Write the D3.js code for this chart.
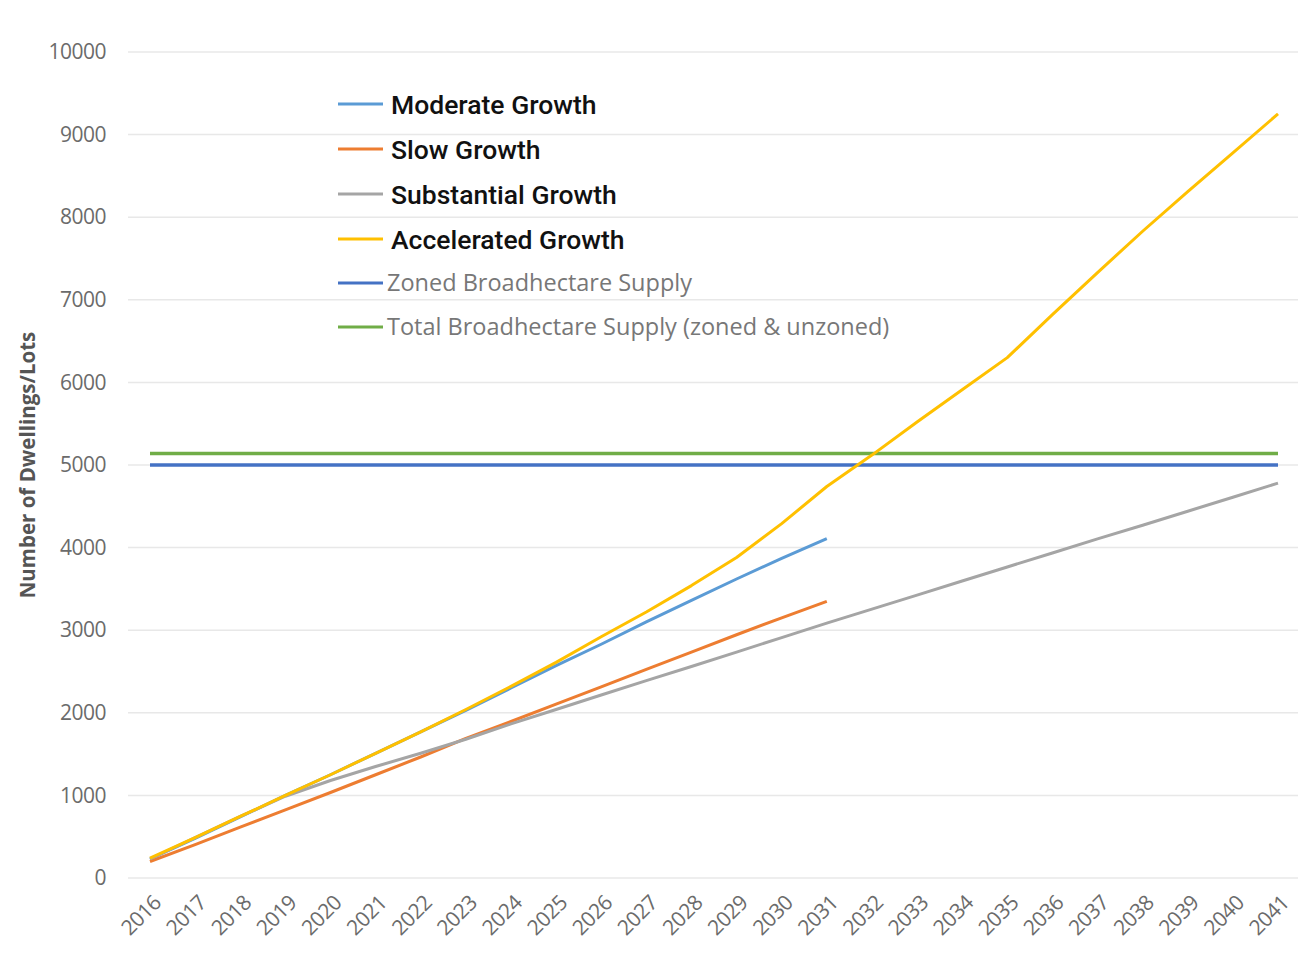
<!DOCTYPE html>
<html>
<head>
<meta charset="utf-8">
<script src="https://cdn.jsdelivr.net/npm/d3@7"></script>
<style>
  html, body { margin: 0; padding: 0; background: #ffffff; }
  svg { display: block; }
</style>
</head>
<body>
<svg id="chart" width="1309" height="960"></svg>
<script>
// Dwelling / lot take-up projections against broadhectare supply, 2016–2041
const years = d3.range(2016, 2042).map(String);

const moderateGrowth = [230, 480, 740, 1000, 1250, 1510, 1770, 2030, 2300, 2570, 2830, 3100, 3360, 3620, 3870, 4110];
const slowGrowth = [200, 405, 615, 825, 1035, 1250, 1465, 1690, 1895, 2105, 2315, 2525, 2735, 2945, 3150, 3350];
const substantialGrowth = [230, 490, 745, 990, 1180, 1350, 1510, 1680, 1865, 2040, 2215, 2390, 2560, 2735, 2910, 3085,
                           3255, 3425, 3595, 3765, 3935, 4105, 4270, 4440, 4610, 4780];
const acceleratedGrowth = [240, 490, 745, 1000, 1250, 1510, 1770, 2040, 2320, 2610, 2920, 3220, 3540, 3880, 4290, 4740,
                           5120, 5520, 5910, 6300, 6820, 7330, 7830, 8310, 8780, 9250];
const zonedSupply = 5000;
const totalSupply = 5140;

const yTicks = [0, 1000, 2000, 3000, 4000, 5000, 6000, 7000, 8000, 9000, 10000];

const seriesNames = ["Moderate Growth", "Slow Growth", "Substantial Growth", "Accelerated Growth",
                     "Zoned Broadhectare Supply", "Total Broadhectare Supply (zoned & unzoned)"];
const seriesColors = ["#5b9bd5", "#ed7d31", "#a5a5a5", "#ffc000", "#4472c4", "#70ad47"];

const svg = d3.select("#chart");

const x = d3.scalePoint().domain(years).range([150, 1278]);
const y = d3.scaleLinear().domain([0, 10000]).range([878, 52]);

const gridLeft = 128, gridRight = 1298;

// horizontal gridlines
svg.append("g")
  .selectAll("line")
  .data(yTicks)
  .join("line")
  .attr("x1", gridLeft).attr("x2", gridRight)
  .attr("y1", d => y(d)).attr("y2", d => y(d))
  .attr("stroke", "#e8e8e8")
  .attr("stroke-width", 1.5);

// y axis labels
const yAxis = d3.axisLeft(y).tickValues(yTicks).tickSize(0).tickPadding(0).tickFormat(d3.format("d"));
const gy = svg.append("g").attr("transform", "translate(106,0)").call(yAxis);
gy.select(".domain").remove();
gy.selectAll("text")
  .attr("font-family", "'Open Sans', 'Noto Sans', sans-serif")
  .attr("font-size", 21)
  .attr("letter-spacing", -0.5)
  .attr("fill", "#6b6b6b");

// y axis title
svg.append("text")
  .attr("transform", "translate(35,465) rotate(-90)")
  .attr("text-anchor", "middle")
  .attr("font-family", "'Open Sans', 'Noto Sans', sans-serif")
  .attr("font-weight", "bold")
  .attr("font-size", 20.5)
  .attr("fill", "#555555")
  .text("Number of Dwellings/Lots");

// x axis labels, rotated
const xAxis = d3.axisBottom(x).tickSize(0).tickPadding(0);
const gx = svg.append("g").call(xAxis);
gx.select(".domain").remove();
gx.selectAll(".tick text")
  .attr("font-family", "'Open Sans', 'Noto Sans', sans-serif")
  .attr("font-size", 21)
  .attr("letter-spacing", -0.5)
  .attr("fill", "#6b6b6b")
  .attr("text-anchor", "end")
  .attr("dy", null)
  .attr("y", null)
  .attr("transform", "translate(12,904) rotate(-45)");

// supply lines
const flat = (v) => years.map(yr => ({ year: yr, value: v }));
const lineGen = d3.line().x(d => x(d.year)).y(d => y(d.value));

svg.append("path")
  .datum(flat(totalSupply))
  .attr("d", lineGen)
  .attr("fill", "none")
  .attr("stroke", seriesColors[5])
  .attr("stroke-width", 3.5);

svg.append("path")
  .datum(flat(zonedSupply))
  .attr("d", lineGen)
  .attr("fill", "none")
  .attr("stroke", seriesColors[4])
  .attr("stroke-width", 3.5);

// growth scenarios, accelerated drawn last so it sits on top
const toPoints = (arr) => arr.map((v, i) => ({ year: years[i], value: v }));
const growth = [
  { vals: moderateGrowth, color: seriesColors[0] },
  { vals: slowGrowth, color: seriesColors[1] },
  { vals: substantialGrowth, color: seriesColors[2] },
  { vals: acceleratedGrowth, color: seriesColors[3] }
];
svg.append("g")
  .selectAll("path")
  .data(growth)
  .join("path")
  .attr("d", d => lineGen(toPoints(d.vals)))
  .attr("fill", "none")
  .attr("stroke", d => d.color)
  .attr("stroke-width", 3)
  .attr("stroke-linejoin", "round");

// legend
const legendY = [104, 149, 194, 239, 283, 327];
const legend = svg.append("g");
seriesNames.forEach((name, i) => {
  const big = i < 4;
  legend.append("line")
    .attr("x1", 338).attr("x2", 383)
    .attr("y1", legendY[i]).attr("y2", legendY[i])
    .attr("stroke", seriesColors[i])
    .attr("stroke-width", 3);
  legend.append("text")
    .attr("x", big ? 391 : 387)
    .attr("y", legendY[i])
    .attr("dy", "0.36em")
    .attr("font-family", big ? "Roboto, 'Noto Sans', sans-serif" : "'Open Sans', 'Noto Sans', sans-serif")
    .attr("font-size", big ? 26.5 : 23.5)
    .attr("font-weight", big ? 500 : 400)
    .attr("fill", big ? "#111111" : "#777777")
    .text(name);
});
</script>
</body>
</html>
